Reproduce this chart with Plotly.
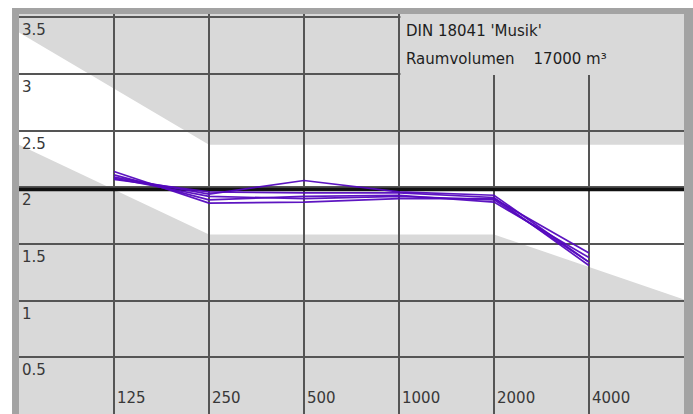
import plotly.graph_objects as go

# Octave bands (positions on a log2 frequency scale, 62.5 Hz .. 8 kHz -> 0 .. 7)
band_pos = [1, 2, 3, 4, 5, 6]
band_labels = ["125", "250", "500", "1000", "2000", "4000"]
x_range = [0, 7]

# Target reverberation time and DIN 18041 'Musik' tolerance factors
t_soll = 1.98
tol_pos = [0, 2, 5, 7]
tol_upper = [1.7, 1.2, 1.2, 1.2]
tol_lower = [1.2, 0.8, 0.8, 0.51]

# Measured reverberation times (s) per octave band
rt_series = [
    [2.14, 1.86, 1.87, 1.90, 1.90, 1.42],
    [2.11, 1.89, 1.92, 1.93, 1.87, 1.38],
    [2.09, 1.94, 2.06, 1.96, 1.93, 1.34],
    [2.07, 1.96, 1.95, 1.95, 1.91, 1.31],
    [2.08, 1.92, 1.90, 1.92, 1.89, 1.34],
]

y_ticks = [0.5, 1, 1.5, 2, 2.5, 3, 3.5]
y_tick_labels = ["0.5", "1", "1.5", "2", "2.5", "3", "3.5"]
y_range = [0, 3.529]

info_lines = ["DIN 18041 'Musik'", "Raumvolumen\u00a0\u00a0\u00a0\u00a017000 m³"]

FONT = "DejaVu Sans"
LABEL_COLOR = "#383838"
GRID_COLOR = "#555555"
OUT_COLOR = "#d9d9d9"
FRAME_COLOR = "#a3a3a3"
LINE_COLOR = "rgba(84, 8, 190, 0.95)"

fig = go.Figure()

# Tolerance band (white) between the lower and upper limits
upper_pts = [(x, f * t_soll) for x, f in zip(tol_pos, tol_upper)]
lower_pts = [(x, f * t_soll) for x, f in zip(tol_pos, tol_lower)]
pts = upper_pts + lower_pts[::-1]
path = "M " + " L ".join(f"{x},{y}" for x, y in pts) + " Z"
fig.add_shape(type="path", path=path, xref="x", yref="y",
              fillcolor="white", line=dict(width=0), layer="below")

# Target value
fig.add_trace(go.Scatter(x=x_range, y=[t_soll, t_soll], mode="lines",
                         line=dict(color="#111111", width=3.4),
                         hoverinfo="skip"))

# Measurements
for series in rt_series:
    fig.add_trace(go.Scatter(x=band_pos, y=series, mode="lines",
                             line=dict(color=LINE_COLOR, width=1.7),
                             hoverinfo="skip"))

# Info box in the upper right corner
fig.add_shape(type="rect", xref="x", yref="y",
              x0=4.015, x1=x_range[1], y0=2.99, y1=y_range[1],
              fillcolor=OUT_COLOR, line=dict(width=0), layer="above")

# Outer frame: white strips at the top and left edge of the page
fig.add_shape(type="rect", xref="paper", yref="paper",
              x0=-0.1, x1=1.1, y0=1.015, y1=1.1,
              fillcolor="white", line=dict(width=0), layer="above")
fig.add_shape(type="rect", xref="paper", yref="paper",
              x0=-0.1, x1=-0.0105, y0=-0.1, y1=1.1,
              fillcolor="white", line=dict(width=0), layer="above")

annotations = []
for v, lab in zip(y_ticks, y_tick_labels):
    annotations.append(dict(x=x_range[0], y=v, xref="x", yref="y", text=lab,
                            showarrow=False, xanchor="left", yanchor="top",
                            xshift=1, yshift=-2,
                            font=dict(family=FONT, size=15, color=LABEL_COLOR)))
for p, lab in zip(band_pos, band_labels):
    annotations.append(dict(x=p, y=y_range[0], xref="x", yref="y", text=lab,
                            showarrow=False, xanchor="left", yanchor="bottom",
                            xshift=1, yshift=5,
                            font=dict(family=FONT, size=15, color=LABEL_COLOR)))
for i, line in enumerate(info_lines):
    annotations.append(dict(x=4.015, y=y_range[1], xref="x", yref="y", text=line,
                            showarrow=False, xanchor="left", yanchor="top",
                            xshift=4, yshift=-6 - 28 * i,
                            font=dict(family=FONT, size=15, color="#1e1e1e")))

fig.update_layout(
    width=693, height=414,
    margin=dict(l=19, r=9, t=14, b=0, pad=0),
    paper_bgcolor=FRAME_COLOR,
    plot_bgcolor=OUT_COLOR,
    showlegend=False,
    annotations=annotations,
    xaxis=dict(range=x_range, tickvals=band_pos, showticklabels=False,
               showgrid=True, gridcolor=GRID_COLOR, gridwidth=1.6,
               zeroline=False, showline=False, ticks="", fixedrange=True),
    yaxis=dict(range=y_range, tickvals=y_ticks, showticklabels=False,
               showgrid=True, gridcolor=GRID_COLOR, gridwidth=1.6,
               zeroline=False, showline=False, ticks="", fixedrange=True),
)

fig.write_html("out.html", config={"displayModeBar": False})
